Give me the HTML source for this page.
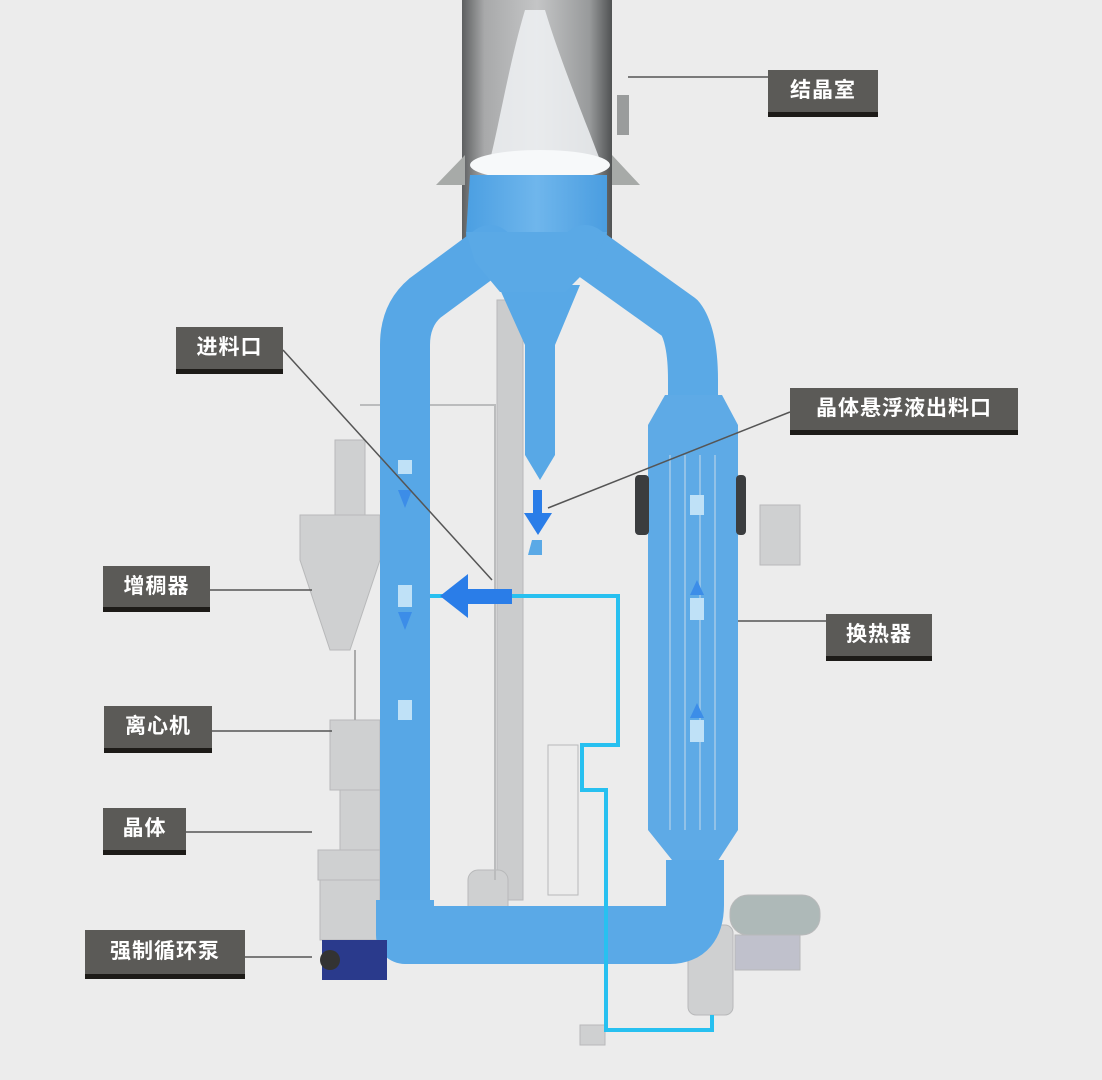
<!DOCTYPE html>
<html><head><meta charset="utf-8"><style>
html,body{margin:0;padding:0;background:#ececec;}
.wrap{position:relative;width:1102px;height:1080px;overflow:hidden;background:#ececec;}
.lb{position:absolute;background:#5b5a57;color:#fff;font:bold 21px "Liberation Sans","Noto Sans CJK SC",sans-serif;text-align:center;box-sizing:border-box;border-bottom:5px solid #1d1b18;letter-spacing:1px;}
svg{position:absolute;left:0;top:0;}
</style></head><body><div class="wrap">
<svg width="1102" height="1080" viewBox="0 0 1102 1080">
<defs>
<linearGradient id="cyl" x1="0" x2="1"><stop offset="0" stop-color="#5d5f60"/><stop offset=".15" stop-color="#a8a9aa"/><stop offset=".5" stop-color="#c4c5c6"/><stop offset=".85" stop-color="#989a9b"/><stop offset="1" stop-color="#505253"/></linearGradient>
<linearGradient id="bl" x1="0" x2="1"><stop offset="0" stop-color="#4b9fe2"/><stop offset=".5" stop-color="#6fb6ec"/><stop offset="1" stop-color="#4a9de0"/></linearGradient>
</defs>
<g fill="#cfd0d1" stroke="#b8b9ba" stroke-width="1">
<rect x="497" y="300" width="26" height="600" fill="#cbcccd"/>
<polygon points="300,515 380,515 380,560 350,650 330,650 300,560"/>
<rect x="335" y="440" width="30" height="75"/>
<rect x="330" y="720" width="50" height="70"/>
<rect x="340" y="790" width="40" height="60"/>
<rect x="318" y="850" width="62" height="30"/>
<rect x="320" y="880" width="60" height="60"/>
<rect x="468" y="870" width="40" height="60" rx="10"/>
<rect x="730" y="895" width="90" height="40" rx="18" fill="#aeb9b8"/>
<rect x="735" y="935" width="65" height="35" fill="#c0c1cc"/>
<rect x="688" y="925" width="45" height="90" rx="8"/>
<rect x="760" y="505" width="40" height="60"/>
<rect x="580" y="1025" width="25" height="20"/>
<rect x="548" y="745" width="30" height="150" fill="none"/>
</g>
<polyline points="360,405 495,405 495,880" fill="none" stroke="#bbbcbd" stroke-width="2"/>
<polyline points="355,650 355,720" fill="none" stroke="#aaa" stroke-width="2"/>
<rect x="462" y="0" width="150" height="240" fill="url(#cyl)"/>
<polygon points="436,185 465,155 465,185" fill="#a7aaa8"/>
<polygon points="612,155 640,185 612,185" fill="#a7aaa8"/>
<rect x="617" y="95" width="12" height="40" fill="#9a9c9c"/>
<path d="M525,10 C510,60 500,120 490,160 L600,160 C585,120 560,60 545,10 Z" fill="#eef1f3" opacity=".85"/>
<ellipse cx="540" cy="165" rx="70" ry="15" fill="#f7f9fa"/>
<path d="M470,175 L607,175 L607,235 L590,262 L470,262 L466,235 Z" fill="url(#bl)"/>
<path d="M498,285 L580,285 L555,345 L555,455 L540,480 L525,455 L525,345 Z" fill="#58a8e6"/>
<path d="M490,250 L425,298 Q405,315 405,345 L405,925" fill="none" stroke="#57a7e6" stroke-width="50" stroke-linejoin="round" stroke-linecap="round"/>
<path d="M585,250 L680,318 Q693,335 693,380 L693,420" fill="none" stroke="#5aa9e6" stroke-width="50" stroke-linejoin="round" stroke-linecap="round"/>
<path d="M466,232 L607,232 L595,262 L565,292 L500,292 L475,262 Z" fill="#5aa9e6"/>
<polygon points="665,395 722,395 738,425 738,830 712,870 680,870 648,830 648,425" fill="#5eaae6"/>
<path d="M405,900 L405,935 L670,935 Q695,935 695,905 L695,860" fill="none" stroke="#5aa9e7" stroke-width="58" stroke-linejoin="round"/>
<g stroke="#a8cdea" stroke-width="2" opacity=".7">
<line x1="670" y1="455" x2="670" y2="830"/><line x1="685" y1="455" x2="685" y2="830"/><line x1="700" y1="455" x2="700" y2="830"/><line x1="715" y1="455" x2="715" y2="830"/>
</g>
<rect x="635" y="475" width="14" height="60" rx="4" fill="#3b3d3f"/>
<rect x="736" y="475" width="10" height="60" rx="4" fill="#3b3d3f"/>
<rect x="322" y="940" width="65" height="40" fill="#2a3a8c"/>
<circle cx="330" cy="960" r="10" fill="#333"/>
<g fill="#3c8de8">
<rect x="398" y="460" width="14" height="14" fill="#bfe1f7"/><polygon points="398,490 412,490 405,508"/>
<rect x="398" y="585" width="14" height="22" fill="#bfe1f7"/><polygon points="398,612 412,612 405,630"/>
<rect x="398" y="700" width="14" height="20" fill="#bfe1f7"/>
<polygon points="690,595 704,595 697,580"/><rect x="690" y="598" width="14" height="22" fill="#bfe1f7"/>
<polygon points="690,718 704,718 697,703"/><rect x="690" y="720" width="14" height="22" fill="#bfe1f7"/>
<rect x="690" y="495" width="14" height="20" fill="#bfe1f7"/>
</g>
<polyline points="430,596 618,596 618,745 582,745 582,790 606,790 606,1030 712,1030 712,1015" fill="none" stroke="#27c0f0" stroke-width="4"/>
<rect x="468" y="589" width="44" height="15" fill="#2a7de8"/>
<polygon points="440,596 468,574 468,618" fill="#2a7de8"/>
<rect x="533" y="490" width="9" height="25" fill="#2a7de8"/>
<polygon points="524,513 552,513 538,535" fill="#2a7de8"/>
<path d="M532,540 L542,540 L542,555 L528,555 Z" fill="#5aa9e6"/>
<g stroke="#555" stroke-width="1.5">
<line x1="628" y1="77" x2="768" y2="77"/>
<line x1="283" y1="350" x2="492" y2="580"/>
<line x1="548" y1="508" x2="790" y2="412"/>
<line x1="210" y1="590" x2="312" y2="590"/>
<line x1="738" y1="621" x2="826" y2="621"/>
<line x1="212" y1="731" x2="332" y2="731"/>
<line x1="186" y1="832" x2="312" y2="832"/>
<line x1="245" y1="957" x2="312" y2="957"/>
</g>
</svg>
<div class="lb" style="left:768px;top:70px;width:110px;height:47px;line-height:42px;">结晶室</div>
<div class="lb" style="left:176px;top:327px;width:107px;height:47px;line-height:42px;">进料口</div>
<div class="lb" style="left:790px;top:388px;width:228px;height:47px;line-height:42px;">晶体悬浮液出料口</div>
<div class="lb" style="left:103px;top:566px;width:107px;height:46px;line-height:41px;">增稠器</div>
<div class="lb" style="left:826px;top:614px;width:106px;height:47px;line-height:42px;">换热器</div>
<div class="lb" style="left:104px;top:706px;width:108px;height:47px;line-height:42px;">离心机</div>
<div class="lb" style="left:103px;top:808px;width:83px;height:47px;line-height:42px;">晶体</div>
<div class="lb" style="left:85px;top:930px;width:160px;height:49px;line-height:44px;">强制循环泵</div>
</div></body></html>
